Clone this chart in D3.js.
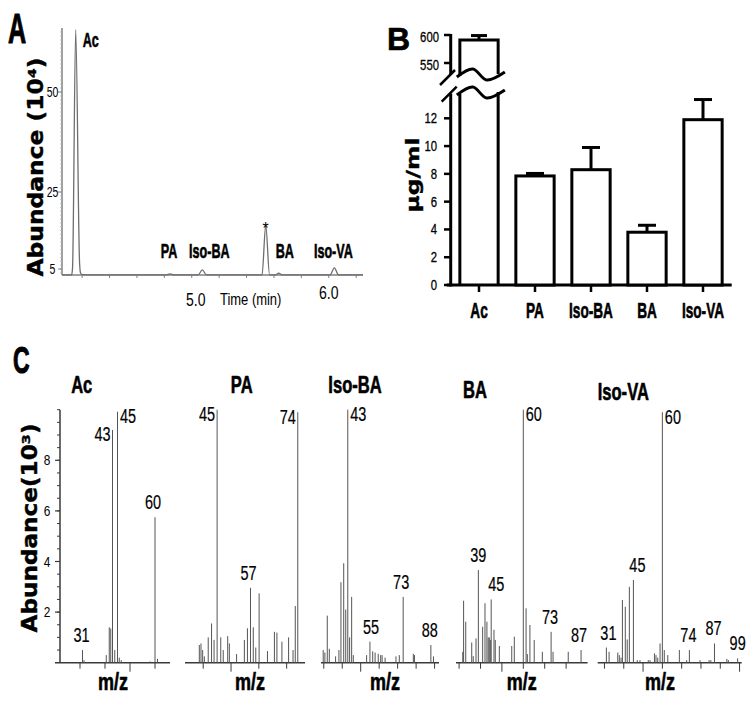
<!DOCTYPE html>
<html><head><meta charset="utf-8">
<script src="https://cdn.jsdelivr.net/npm/d3@7"></script>
<style>body{margin:0;background:#fff}svg{display:block}</style>
</head><body>
<script>
// ================= DATA =================
// Panel A : chromatogram (time in min, abundance x10^4)
const chromTime  = [4.053, 4.123, 4.130, 4.153, 4.181, 4.188, 4.199, 4.30, 4.812, 4.842, 4.871, 5.046, 5.077, 5.108, 5.513, 5.540, 5.568, 5.612, 5.635, 5.659, 6.009, 6.041, 6.072, 6.25];
const chromAbund = [3.45, 3.45, 5.3, 65.6, 6.8, 4.0, 3.55, 3.45, 3.45, 3.75, 3.45, 3.45, 4.75, 3.45, 3.45, 16.4, 3.45, 3.45, 3.95, 3.45, 3.45, 5.3, 3.45, 3.45];
const chromPeakNames = ["Ac", "PA", "Iso-BA", "BA", "Iso-VA"];
const chromPeakTimes = [4.153, 4.842, 5.077, 5.635, 6.041];
const chromStarTime = 5.540, chromStarAbund = 16.4;
const chromYTicks = [5, 25, 50];
const chromXTicks = [4.2, 4.4, 4.6, 4.8, 5.0, 5.2, 5.4, 5.6, 5.8, 6.0, 6.2];
const chromXLabels = [5.0, 6.0];

// Panel B : concentrations (µg/ml)
const concCategories = ["Ac", "PA", "Iso-BA", "BA", "Iso-VA"];
const concMeans  = [591, 7.85, 8.3, 3.8, 11.9];
const concErrors = [8, 0.18, 1.6, 0.5, 1.45];
const concLowTicks  = [0, 2, 4, 6, 8, 10, 12];
const concHighTicks = [550, 600];

// Panel C : mass spectra (m/z, abundance x10^3)
const specNames = ["Ac", "PA", "Iso-BA", "BA", "Iso-VA"];
const acMz     = [31, 31.6, 40.5, 41.7, 42.3, 43, 43.9, 45, 45.7, 46.5, 58, 60, 61];
const acAbund  = [0.5, 0.1, 0.3, 1.4, 1.35, 9.2, 0.5, 9.92, 0.2, 0.1, 0.05, 5.75, 0.15];
const paMz     = [38.6, 39.2, 39.8, 40.4, 41.8, 43, 43.9, 45, 46.3, 47.2, 48.8, 49.4, 52, 54.8, 55.9, 57, 58, 58.9, 60.1, 63.1, 65.6, 66.5, 68.3, 70.7, 72.3, 73.1, 74];
const paAbund  = [0.7, 0.76, 0.5, 0.25, 1.0, 1.55, 0.9, 10, 1.0, 0.5, 1.05, 0.76, 0.34, 0.9, 1.36, 2.96, 1.4, 0.6, 2.74, 0.46, 1.22, 1.19, 0.83, 1.0, 0.5, 2.24, 9.9];
const isoBaMz    = [29.7, 30.6, 31.9, 33, 36.4, 38.2, 39.3, 40.8, 41.9, 43, 44, 45.1, 46, 53.2, 55, 56.5, 57.8, 59.5, 60.8, 61.6, 63.2, 69.1, 70.9, 73, 78.5, 79.1, 88, 89.4];
const isoBaAbund = [0.5, 0.4, 1.86, 0.55, 0.25, 0.5, 3.18, 3.93, 2.1, 10, 1.0, 2.6, 0.3, 0.3, 0.83, 0.45, 0.4, 0.35, 0.3, 0.3, 0.2, 0.25, 0.3, 2.6, 0.35, 0.3, 0.7, 0.25];
const baMz     = [31.7, 32.1, 33.1, 35.9, 36.6, 37.9, 39, 41, 42.1, 43, 43.6, 44.1, 44.6, 45, 46.3, 46.9, 48.8, 54.6, 55.8, 60, 61.3, 61.9, 63.1, 65.1, 68.9, 73, 73.9, 81, 87];
const baAbund  = [0.43, 2.45, 1.62, 0.8, 0.26, 0.96, 3.66, 1.42, 2.35, 1.62, 1.0, 1.0, 0.9, 2.5, 1.3, 0.9, 0.66, 0.66, 1.03, 10, 2.15, 0.34, 1.49, 0.9, 0.43, 1.22, 0.43, 0.43, 0.5];
const isoVaMz    = [31, 32.4, 36.9, 37.7, 38.6, 39.3, 40.8, 41.8, 42.9, 45, 47, 48.4, 52.7, 53.6, 55.9, 56.7, 57.6, 58.8, 60, 61, 62.8, 68.8, 72.6, 74, 79.5, 84.2, 85.1, 87, 93.4, 94.2, 99];
const isoVaAbund = [0.6, 0.43, 0.4, 0.3, 0.2, 2.48, 2.21, 0.92, 3.0, 3.27, 0.1, 0.1, 0.1, 0.1, 0.37, 0.3, 0.2, 0.76, 9.9, 0.5, 0.3, 0.5, 0.1, 0.5, 0.1, 0.1, 0.1, 0.76, 0.15, 0.1, 0.17];
const specLabelIons = [[31, 43, 45, 60], [45, 57, 74], [43, 55, 73, 88], [39, 45, 60, 73, 87], [31, 45, 60, 74, 87, 99]];
const specTicks = [[30, 40, 50, 60], [40, 50, 60, 70], [30, 40, 50, 60, 70, 80, 90], [30, 40, 50, 60, 70, 80], [30, 40, 50, 60, 70, 80, 90, 100]];
const specYTicks = [2, 4, 6, 8];

// ================= LAYOUT / STYLE =================
const W = 754, H = 714;
const svg = d3.select("body").append("svg").attr("width", W).attr("height", H);
svg.append("rect").attr("width", W).attr("height", H).attr("fill", "#fff");
const ARIAL = "'Liberation Sans', Arial, Helvetica, sans-serif";
const DEJA = "'DejaVu Sans', Verdana, sans-serif";
function label(g, x, y, s, o) {
  o = o || {};
  const t = g.append("text")
    .attr("transform", `translate(${x},${y})` + (o.rot ? ` rotate(${o.rot})` : "") + ` scale(${o.sx || 1},1)`)
    .attr("text-anchor", o.anchor || "start")
    .attr("font-family", o.font || ARIAL)
    .attr("font-size", o.size || 14)
    .attr("font-weight", o.bold ? "bold" : "normal")
    .attr("fill", o.fill || "#000")
    .text(s);
  if (o.heavy) t.attr("stroke", "#000").attr("stroke-width", o.heavy).attr("stroke-linejoin", "round");
  return t;
}
function line(g, x1, y1, x2, y2, stroke, w) {
  return g.append("line").attr("x1", x1).attr("y1", y1).attr("x2", x2).attr("y2", y2)
    .attr("stroke", stroke).attr("stroke-width", w);
}

// ================= PANEL A =================
(function () {
  const g = svg.append("g");
  const ax = d3.scaleLinear().domain([4.053, 6.25]).range([62, 363]);
  const ay = d3.scaleLinear().domain([5, 25, 50]).range([269, 192, 92]);
  const base = ay(3.45);
  const grey = "#808080";
  label(g, 8, 43, "A", { size: 42, bold: true, sx: 0.6, heavy: 1 });
  line(g, ax(4.053), base, ax(6.25), base, grey, 1.5);
  line(g, ax(4.053), base, ax(4.053), ay(66), grey, 1.5);
  chromXTicks.forEach(t => line(g, ax(t), base, ax(t), base + 3, grey, 1));
  d3.range(4, 66, 1).forEach(v => line(g, ax(4.053) - 2, ay(v), ax(4.053), ay(v), "#b0b0b0", 0.8));
  chromYTicks.forEach(v => {
    line(g, ax(4.053) - 4, ay(v), ax(4.053), ay(v), grey, 1);
    label(g, 52.5, ay(v) + 5, String(v), { size: 14, sx: 0.75, anchor: "middle" });
  });
  const pts = d3.zip(chromTime, chromAbund);
  g.append("path").datum(pts)
    .attr("d", d3.line().x(d => ax(d[0])).y(d => ay(d[1])).curve(d3.curveMonotoneX))
    .attr("fill", "none").attr("stroke", "#6e6e6e").attr("stroke-width", 1.3);
  const offs = [7, -1, 7, 6, -1];
  chromPeakNames.forEach((n, i) => {
    if (i === 0) label(g, ax(chromPeakTimes[i]) + offs[i], 47, n, { size: 21, bold: true, sx: 0.6, heavy: 0.6 });
    else label(g, ax(chromPeakTimes[i]) + offs[i], 258, n, { size: 21, bold: true, sx: 0.6, anchor: "middle", heavy: 0.6 });
  });
  label(g, ax(chromStarTime), ay(chromStarAbund) + 9, "*", { size: 16, anchor: "middle" });
  chromXLabels.forEach((t, i) => label(g, ax(t) + (i === 0 ? 4 : 0), i === 0 ? 306 : 299, t.toFixed(1), { size: 18, sx: 0.78, anchor: "middle" }));
  label(g, 220, 305, "Time (min)", { size: 16, sx: 0.81 });
  label(g, 43, 167, "Abundance (10\u2074)", { font: DEJA, size: 20.5, bold: true, rot: -90, sx: 1.14, anchor: "middle", heavy: 0.4 });
})();

// ================= PANEL B =================
(function () {
  const g = svg.append("g");
  const bx = d3.scaleBand().domain(concCategories).range([451, 731]).paddingInner(0.316).paddingOuter(0.158);
  const yLow = d3.scaleLinear().domain([0, 12]).range([285, 118.3]);
  const yHigh = d3.scaleLinear().domain([550, 600]).range([63, 35]);
  const axX = 450.7, base = yLow(0), k = "#000";
  label(g, 387, 50, "B", { size: 32, bold: true, heavy: 0.6 });
  line(g, axX, base + 1.5, axX, 93.5, k, 3);
  line(g, axX, 74.5, axX, yHigh(600) - 1, k, 3);
  line(g, 440, 85, 455, 70, k, 2.5);
  line(g, 441.7, 101.7, 456.7, 86.7, k, 2.5);
  concLowTicks.forEach(v => {
    line(g, 444, yLow(v), axX, yLow(v), k, 2.5);
    label(g, 437, yLow(v) + 5, String(v), { size: 14.5, sx: 0.78, anchor: "end", heavy: 0.3 });
  });
  concHighTicks.forEach(v => {
    line(g, 444, yHigh(v), axX, yHigh(v), k, 2.5);
    label(g, 439, yHigh(v) + 7, String(v), { size: 14.5, sx: 0.78, anchor: "end", heavy: 0.3 });
  });
  line(g, 446.7, base, 731.7, base, k, 3);
  concCategories.forEach(c => {
    const cx = bx(c) + bx.bandwidth() / 2;
    line(g, cx, base, cx, base + 7, k, 2.5);
    label(g, cx, 318, c, { size: 22, bold: true, sx: 0.62, anchor: "middle", heavy: 0.6 });
  });
  const bw = bx.bandwidth();
  concCategories.forEach((c, i) => {
    const x0 = bx(c), cx = x0 + bw / 2, m = concMeans[i], e = concErrors[i];
    if (i === 0) {
      const top = yHigh(m), upB = 76, loB = 94;
      g.append("path").attr("d", `M${x0},${upB} V${top} H${x0 + bw} V${upB - 2}`)
        .attr("fill", "#fff").attr("stroke", k).attr("stroke-width", 3);
      g.append("path").attr("d", `M${x0},${loB} V${base} M${x0 + bw},${loB - 2} V${base}`)
        .attr("fill", "none").attr("stroke", k).attr("stroke-width", 3);
      const wave = d3.line().curve(d3.curveCardinal);
      [upB, loB].forEach(yb => {
        g.append("path").attr("d", wave([[x0 - 3, yb + 1], [x0 + 13, yb - 7], [x0 + 27, yb + 4], [x0 + 45, yb - 4]]))
          .attr("fill", "none").attr("stroke", k).attr("stroke-width", 3);
      });
      line(g, cx, top, cx, yHigh(m + e), k, 3);
      line(g, cx - 8, yHigh(m + e), cx + 8, yHigh(m + e), k, 3);
    } else {
      line(g, cx, yLow(m), cx, yLow(m + e), k, 3);
      line(g, cx - 9, yLow(m + e), cx + 9, yLow(m + e), k, 3);
      g.append("rect").attr("x", x0).attr("y", yLow(m)).attr("width", bw).attr("height", base - yLow(m))
        .attr("fill", "#fff").attr("stroke", k).attr("stroke-width", 3);
    }
  });
  label(g, 418.7, 175, "\u00b5g/ml", { font: DEJA, size: 18, bold: true, rot: -90, sx: 1.3, anchor: "middle", heavy: 0.4 });
})();

// ================= PANEL C =================
(function () {
  const g = svg.append("g");
  const yC = d3.scaleLinear().domain([0, 10]).range([662.7, 409.7]);
  const base = yC(0);
  const axisCol = "#3a3a3a", peakCol = "#555";
  const series = [[acMz, acAbund], [paMz, paAbund], [isoBaMz, isoBaAbund], [baMz, baAbund], [isoVaMz, isoVaAbund]];
  const panels = [
    { x0: 55, x1: 170, dom: [20, 66], tx: 81.7, ty: 393, mz: 113 },
    { x0: 185, x1: 305, dom: [33.45, 76.6], tx: 241.7, ty: 393, mz: 250 },
    { x0: 321, x1: 439, dom: [28.5, 92.4], tx: 355, ty: 393, mz: 385 },
    { x0: 456, x1: 587.6, dom: [28.55, 90.05], tx: 475, ty: 398, mz: 521.7 },
    { x0: 597.7, x1: 741.7, dom: [26.5, 101.1], tx: 623.3, ty: 400, mz: 660 }
  ];
  const sides = [["above", "left", "right", "above"], ["left", "above", "left"], ["right", "above", "above", "above"],
                 ["above", "above", "right", "above", "above"], ["above", "above", "right", "above", "above", "above"]];
  const dxs = [[-1, 0, 0, -2], [0, -2, 0], [0, 1, -2, -1], [0, 5, 0, -1, -2], [2, 4, 0, -1, -1, 0]];
  label(g, 13, 373, "C", { size: 36, bold: true, sx: 0.64, heavy: 1 });
  label(g, 36.7, 528, "Abundance(10\u00b3)", { font: DEJA, size: 20.5, bold: true, rot: -90, sx: 1.13, anchor: "middle", heavy: 0.4 });
  const yx = 60;
  line(g, yx, base, yx, yC(10), axisCol, 1.5);
  d3.range(0.5, 10.01, 0.5).forEach(v => line(g, yx - 3, yC(v), yx, yC(v), axisCol, 1));
  specYTicks.forEach(v => {
    line(g, yx - 5, yC(v), yx, yC(v), axisCol, 1.2);
    label(g, 47, yC(v) + 5, String(v), { size: 14, sx: 0.85, anchor: "middle" });
  });
  panels.forEach((p, i) => {
    const x = d3.scaleLinear().domain(p.dom).range([p.x0, p.x1]);
    const [mz, ab] = series[i];
    line(g, p.x0, base, p.x1, base, axisCol, 1.5);
    specTicks[i].forEach(t => line(g, x(t), base, x(t), base + (t % 50 === 0 ? 9 : 6), axisCol, 1));
    g.append("g").selectAll("line").data(d3.zip(mz, ab)).join("line")
      .attr("x1", d => x(d[0])).attr("x2", d => x(d[0]))
      .attr("y1", base).attr("y2", d => yC(d[1]))
      .attr("stroke", peakCol).attr("stroke-width", 1);
    label(g, p.tx, p.ty, specNames[i], { size: 23, bold: true, sx: 0.72, anchor: "middle", heavy: 0.6 });
    label(g, p.mz, 690, "m/z", { size: 24, bold: true, sx: 0.75, anchor: "middle", heavy: 0.6 });
    specLabelIons[i].forEach((ion, j) => {
      const idx = mz.findIndex(m => Math.abs(m - ion) < 0.35);
      const top = yC(ab[idx]), lx = x(mz[idx]);
      const s = sides[i][j];
      const o = { size: 21, sx: 0.69, heavy: 0.2 };
      if (s === "above") label(g, lx + dxs[i][j], top - 8, String(ion), Object.assign({ anchor: "middle" }, o));
      else if (s === "left") label(g, lx - 2 + dxs[i][j], top + 11.5, String(ion), Object.assign({ anchor: "end" }, o));
      else label(g, lx + 2.5 + dxs[i][j], top + 11.5, String(ion), o);
    });
  });
})();
</script>
</body></html>
